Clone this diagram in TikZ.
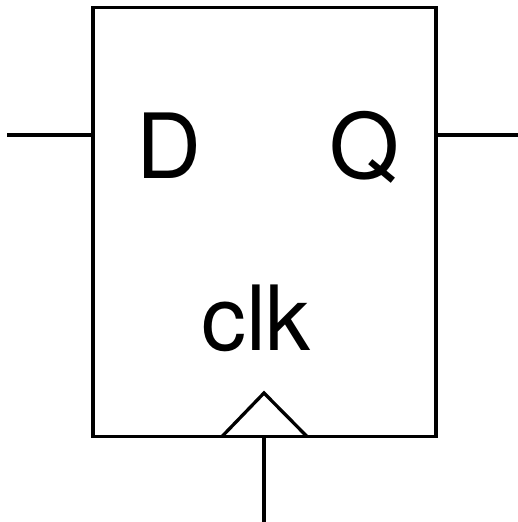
\documentclass[tikz,border=0pt]{standalone}
\usepackage{fontspec}
\setmainfont{TeX Gyre Heros}
\begin{document}
\begin{tikzpicture}[x=1pt, y=-1pt, line width=3.3pt]
    \useasboundingbox (0, 0) rectangle (518, 522);

    \coordinate (NW) at (93, 7.5);
    \coordinate (SE) at (436, 436.5);
    \coordinate (DIn) at (7, 135);
    \coordinate (DPin) at (93, 135);
    \coordinate (QPin) at (436, 135);
    \coordinate (QOut) at (518, 135);
    \coordinate (ClkL) at (222, 436.5);
    \coordinate (ClkT) at (264, 393);
    \coordinate (ClkR) at (307, 436.5);
    \coordinate (ClkPin) at (264, 436.5);
    \coordinate (ClkIn) at (264, 522);

    \draw (NW) rectangle (SE);
    \draw (DIn) -- (DPin);
    \draw (QPin) -- (QOut);
    \draw (ClkL) -- (ClkT) -- (ClkR);
    \draw (ClkPin) -- (ClkIn);

    \node[anchor=base, font=\fontsize{90}{90}\selectfont] (D) at (169, 178) {D};
    \node[anchor=base, font=\fontsize{90}{90}\selectfont] (Q) at (364.5, 178) {Q};
    \node[anchor=base, font=\fontsize{90}{90}\selectfont] (clk) at (256, 350) {clk};
\end{tikzpicture}
\end{document}
